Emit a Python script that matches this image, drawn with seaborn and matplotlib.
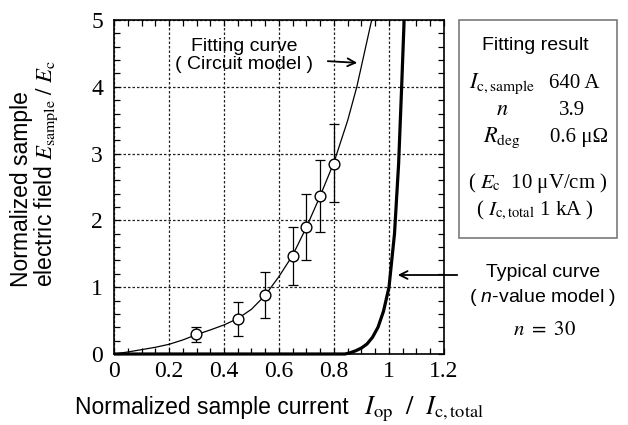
import matplotlib
matplotlib.use("Agg")
import matplotlib.pyplot as plt
from matplotlib.patches import Rectangle
from matplotlib.ticker import MultipleLocator, FixedLocator, FixedFormatter
import numpy as np
import pandas as pd
import seaborn as sns

# Measured points (normalized current, normalized field) with error bar ends
meas_x = [0.30, 0.45, 0.55, 0.65, 0.70, 0.75, 0.80]
meas_y = [0.30, 0.525, 0.88, 1.47, 1.90, 2.36, 2.85]
meas_lo = [0.185, 0.275, 0.545, 1.03, 1.41, 1.825, 2.275]
meas_hi = [0.40, 0.775, 1.225, 1.90, 2.395, 2.905, 3.445]

# Fitting curve (circuit model)
fit_x = [0, 0.05, 0.10, 0.15, 0.20, 0.25, 0.30, 0.35, 0.40, 0.45, 0.50,
         0.55, 0.60, 0.65, 0.70, 0.75, 0.80, 0.85, 0.883, 0.91, 0.937]
fit_y = [0, 0.03, 0.065, 0.10, 0.145, 0.21, 0.29, 0.36, 0.435, 0.53, 0.67,
         0.88, 1.16, 1.48, 1.90, 2.37, 2.87, 3.50, 4.00, 4.50, 5.00]

# Typical curve (n-value model, n = 30)
typ_x = [0, 0.84, 0.86, 0.88, 0.90, 0.92, 0.94, 0.96, 0.98, 1.00,
         1.02, 1.035, 1.046, 1.055]
typ_y = [0, 0.0, 0.02, 0.05, 0.09, 0.15, 0.25, 0.40, 0.64, 1.00,
         1.80, 2.85, 4.00, 5.00]

x_ticks = [0, 0.2, 0.4, 0.6, 0.8, 1.0, 1.2]
x_ticklabels = ["0", "0.2", "0.4", "0.6", "0.8", "1", "1.2"]
y_ticks = [0, 1, 2, 3, 4, 5]
y_ticklabels = ["0", "1", "2", "3", "4", "5"]

sns.set_theme(style="white")
plt.rcParams["font.family"] = ["Liberation Sans", "DejaVu Sans"]
plt.rcParams["mathtext.fontset"] = "stix"
plt.rcParams["mathtext.rm"] = "Liberation Sans"
plt.rcParams["mathtext.it"] = "Liberation Sans:italic"

W, H = 628, 425
fig = plt.figure(figsize=(W / 100, H / 100), dpi=100)
ax = fig.add_axes([114 / W, 1 - 354 / H, 330 / W, 334 / H])


def fx(x):
    return x / W


def fy(y):
    return 1 - y / H


fit_df = pd.DataFrame({"I": fit_x, "E": fit_y})
typ_df = pd.DataFrame({"I": typ_x, "E": typ_y})
meas_df = pd.DataFrame({"I": meas_x, "E": meas_y})

sns.lineplot(data=fit_df, x="I", y="E", sort=False, color="black",
             linewidth=0.9, ax=ax, zorder=3)
sns.lineplot(data=typ_df, x="I", y="E", sort=False, color="black",
             linewidth=2.3, ax=ax, zorder=4, clip_on=False,
             solid_capstyle="butt")

yerr = np.array([np.array(meas_y) - np.array(meas_lo),
                 np.array(meas_hi) - np.array(meas_y)])
ax.errorbar(meas_x, meas_y, yerr=yerr, fmt="none", ecolor="black",
            elinewidth=0.9, capsize=3.5, capthick=0.9, zorder=4)
sns.scatterplot(data=meas_df, x="I", y="E", marker="o", s=60,
                facecolor="white", edgecolor="black", linewidth=1.0,
                ax=ax, zorder=5)

ax.set_xlim(0, 1.2)
ax.set_ylim(0, 5)
ax.xaxis.set_major_locator(FixedLocator(x_ticks))
ax.xaxis.set_major_formatter(FixedFormatter(x_ticklabels))
ax.yaxis.set_major_locator(FixedLocator(y_ticks))
ax.yaxis.set_major_formatter(FixedFormatter(y_ticklabels))
ax.xaxis.set_minor_locator(MultipleLocator(0.05))
ax.yaxis.set_minor_locator(MultipleLocator(0.2))
ax.tick_params(which="both", direction="in", top=True, right=True,
               bottom=True, left=True, length=4.5, width=0.9, color="black")
ax.tick_params(axis="x", which="major", pad=5)
ax.tick_params(axis="y", which="major", pad=8)
for lab in ax.get_xticklabels() + ax.get_yticklabels():
    lab.set_fontfamily("Liberation Serif")
    lab.set_fontsize(17)
    lab.set_color("black")
ax.grid(True, which="major", color="#222222", linestyle=(0, (2, 1.6)),
        linewidth=0.9)
for sp in ax.spines.values():
    sp.set_color("black")
    sp.set_linewidth(1.2)
ax.set_xlabel("")
ax.set_ylabel("")

# Axis titles
fig.text(fx(75), fy(414), "Normalized sample current", fontsize=16.5,
         ha="left", va="baseline", color="black")
fig.text(fx(364), fy(414),
         r"$I_{\mathrm{op}}\ \ /\ \ I_{\mathrm{c,total}}$",
         fontsize=19, ha="left", va="baseline", color="black",
         math_fontfamily="stix")
fig.text(fx(35), fy(287),
         "Normalized sample\n"
         r"electric field $E_{\mathrm{sample}}\ /\ E_{\mathrm{c}}$",
         fontsize=16.5, rotation=90, rotation_mode="anchor", ha="left",
         va="center", multialignment="left", linespacing=0.95,
         color="black", math_fontfamily="stix")

# Fitting-curve annotation
fig.text(fx(244), fy(51), "Fitting curve", fontsize=14, ha="center",
         va="baseline", color="black")
fig.text(fx(244), fy(69), "( Circuit model )", fontsize=14, ha="center",
         va="baseline", color="black")
ax.annotate("", xy=(360, H - 63), xytext=(325, H - 61),
            xycoords="figure pixels", textcoords="figure pixels",
            arrowprops=dict(arrowstyle="->", lw=1.3, color="black",
                            mutation_scale=14))

# Typical-curve annotation
fig.text(fx(543), fy(277), "Typical curve", fontsize=14, ha="center",
         va="baseline", color="black")
fig.text(fx(543), fy(302), r"( $n$-value model )", fontsize=14,
         ha="center", va="baseline", color="black", math_fontfamily="custom")
fig.text(fx(545), fy(335), r"$n\ =\ 30$", fontsize=15, ha="center",
         va="baseline", color="black", math_fontfamily="stix")
ax.annotate("", xy=(395, H - 275), xytext=(460, H - 275),
            xycoords="figure pixels", textcoords="figure pixels",
            arrowprops=dict(arrowstyle="->", lw=1.3, color="black",
                            mutation_scale=14))

# Fitting result box
fig.patches.append(Rectangle((fx(459), fy(238)), fx(617) - fx(459),
                             fy(20) - fy(238), transform=fig.transFigure,
                             fill=False, edgecolor="#7a7a7a", linewidth=1.2))
fig.text(fx(535), fy(50), "Fitting result", fontsize=14, ha="center",
         va="baseline", color="black")
serif = ["Liberation Serif", "DejaVu Serif"]
rows = [
    (r"$I_{\mathrm{c,sample}}$", "640 A", 88, 574),
    (r"$n$", "3.9", 115, 572),
    (r"$R_{\mathrm{deg}}$", "0.6 μΩ", 142, 579),
]
for name, val, base, vx in rows:
    fig.text(fx(502), fy(base), name, fontsize=16, ha="center",
             va="baseline", color="black", math_fontfamily="stix",
             family=serif)
    fig.text(fx(vx), fy(base), val, fontsize=15, ha="center",
             va="baseline", color="black", family=serif)
fig.text(fx(538), fy(188), r"( $E_{\mathrm{c}}$  10 μV/cm )", fontsize=15,
         ha="center", va="baseline", color="black", family=serif,
         math_fontfamily="stix")
fig.text(fx(535), fy(215), r"( $I_{\mathrm{c,total}}$ 1 kA )", fontsize=15,
         ha="center", va="baseline", color="black", family=serif,
         math_fontfamily="stix")

fig.savefig("out.png", dpi=100)
